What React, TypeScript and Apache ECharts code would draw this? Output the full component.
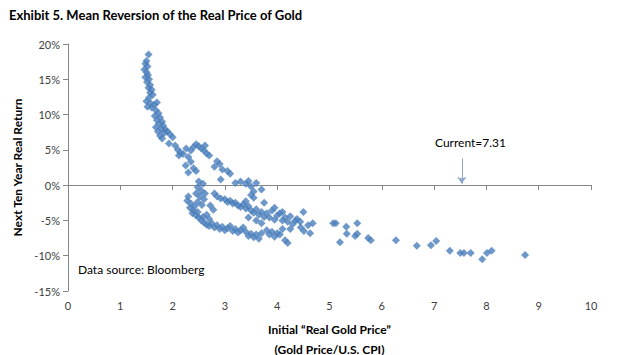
import React, { useEffect, useRef } from "react";
import * as echarts from "echarts";

const title = "Exhibit 5. Mean Reversion of the Real Price of Gold";

// Initial real gold price (x) and next ten year real return in % (y)
const upperX = [1.54, 1.50, 1.48, 1.52, 1.46, 1.50, 1.53, 1.48, 1.55, 1.51, 1.57, 1.54, 1.60, 1.57, 1.62, 1.55, 1.50, 1.58, 1.65, 1.52, 1.60, 1.70, 1.68, 1.73, 1.66, 1.76, 1.70, 1.80, 1.74, 1.82, 1.68, 1.78, 1.86, 1.72, 1.84, 1.90, 1.76, 1.95, 1.80, 2.00, 1.93, 2.05, 2.10, 2.15, 2.20, 2.12, 2.26, 2.30, 2.35, 2.40, 2.45, 2.50, 2.55, 2.60, 2.65, 2.62, 2.70, 2.35, 2.25, 2.40, 2.30, 2.45, 2.85, 2.80, 2.95, 2.90, 3.10, 3.05, 2.92, 3.30, 3.40, 3.45, 3.50, 3.20, 3.60, 3.70, 3.55];
const upperY = [18.5, 17.6, 17.2, 16.8, 16.4, 16.0, 15.6, 15.3, 15.0, 14.6, 14.2, 13.8, 13.5, 13.1, 12.8, 12.4, 11.9, 11.6, 11.4, 11.1, 11.0, 11.7, 10.6, 10.2, 9.8, 9.6, 9.2, 9.0, 8.7, 8.4, 8.2, 8.0, 7.9, 7.6, 7.4, 7.6, 7.0, 7.2, 6.6, 6.8, 5.9, 5.6, 5.0, 4.6, 4.4, 4.2, 5.2, 4.0, 4.9, 5.4, 5.8, 5.5, 5.2, 4.9, 4.5, 5.6, 4.2, 3.3, 2.8, 2.4, 1.8, 2.0, 3.4, 2.6, 2.2, 3.0, 1.6, 2.0, 0.8, 0.5, 0.2, 0.6, -0.2, 0.3, 0.3, -0.6, -0.9];

const middleX = [2.50, 2.48, 2.55, 2.45, 2.52, 2.60, 2.48, 2.56, 2.42, 2.62, 2.58, 2.80, 2.85, 2.92, 3.00, 3.05, 3.10, 3.15, 3.20, 3.25, 3.30, 3.35, 3.40, 3.45, 3.50, 3.55, 3.60, 3.65, 3.70, 3.75, 3.80, 3.85, 3.90, 3.95, 4.00, 4.05, 4.10, 4.15, 4.20, 4.25, 4.30, 4.35, 3.60, 3.70, 3.45, 3.40, 3.50, 3.55, 3.75, 3.95, 4.10, 4.50, 4.38, 4.44, 4.51, 4.59, 4.63, 4.68, 4.45, 4.25];
const middleY = [0.5, -0.3, -0.8, -1.2, -1.6, -2.0, -2.4, -2.8, -3.0, -1.2, 0.2, -1.2, -1.6, -1.9, -2.0, -2.4, -2.2, -2.6, -2.5, -2.9, -3.1, -2.7, -3.3, -3.0, -3.6, -3.9, -3.4, -4.2, -3.8, -4.5, -4.0, -4.6, -3.6, -4.9, -4.3, -4.0, -5.0, -4.6, -5.2, -4.4, -5.5, -5.0, -5.0, -5.4, -4.6, -2.3, -1.4, -1.8, -2.5, -3.2, -3.8, -3.8, -4.8, -5.2, -6.5, -5.7, -6.8, -5.4, -6.0, -6.2];

const lowerX = [2.30, 2.28, 2.35, 2.33, 2.40, 2.38, 2.45, 2.50, 2.48, 2.55, 2.60, 2.58, 2.65, 2.70, 2.75, 2.80, 2.85, 2.90, 2.95, 3.00, 3.05, 3.10, 3.15, 3.20, 3.25, 3.30, 3.35, 3.40, 3.45, 3.50, 3.55, 3.60, 3.65, 3.70, 3.80, 3.85, 3.90, 3.95, 4.00, 4.05, 4.10, 4.20, 4.15, 2.65, 2.70, 2.78, 2.72];
const lowerY = [-1.6, -2.2, -2.6, -3.2, -3.6, -4.0, -4.3, -4.6, -3.8, -5.0, -5.3, -4.5, -5.6, -5.8, -5.4, -6.0, -5.7, -6.2, -5.9, -6.4, -6.1, -5.8, -6.5, -6.2, -6.7, -6.4, -6.0, -6.6, -7.2, -6.9, -7.4, -7.0, -7.6, -6.8, -6.4, -7.0, -6.6, -7.3, -6.8, -7.0, -6.2, -8.2, -7.8, -4.2, -4.8, -3.5, -2.9];

const tailX = [5.07, 5.12, 5.20, 5.32, 5.33, 5.49, 5.53, 5.53, 5.74, 5.79, 6.27, 6.67, 6.94, 7.04, 7.30, 7.50, 7.57, 7.70, 7.92, 8.01, 8.10, 8.74];
const tailY = [-5.4, -5.4, -8.1, -5.9, -6.9, -7.2, -5.4, -6.9, -7.5, -7.8, -7.8, -8.6, -8.5, -7.9, -9.3, -9.6, -9.6, -9.6, -10.5, -9.6, -9.3, -9.9];

const currentLabel = "Current=7.31";
const currentArrowX = 7.53;
const currentArrowFrom = 3.8;
const currentArrowTo = 0.2;
const sourceNote = "Data source: Bloomberg";

function pairs(xs: number[], ys: number[]) {
  return xs.map((x, i) => [x, ys[i]]);
}

export default function App() {
  const ref = useRef<HTMLDivElement>(null);
  useEffect(() => {
    if (!ref.current) return;
    const chart = echarts.init(ref.current, undefined, { renderer: "svg", width: 624, height: 355 });
    const data = [
      ...pairs(upperX, upperY),
      ...pairs(middleX, middleY),
      ...pairs(lowerX, lowerY),
      ...pairs(tailX, tailY),
    ];
    const axisColor = "#868686";
    const textColor = "#404040";
    const font = "Lato";
    chart.setOption({
      animation: false,
      backgroundColor: "#ffffff",
      textStyle: { fontFamily: font },
      title: {
        text: title,
        left: 4,
        top: 3,
        textStyle: { fontFamily: font, fontWeight: "bold", fontSize: 13, color: "#000" },
      },
      grid: { left: 68, right: 33, top: 44, bottom: 64, outerBoundsMode: "none", containLabel: false },
      xAxis: [
        {
          type: "value",
          min: 0,
          max: 10,
          interval: 1,
          position: "bottom",
          axisLine: { show: false, onZero: false },
          axisTick: { show: false },
          splitLine: { show: false },
          axisLabel: { color: textColor, fontSize: 11, margin: 9, fontFamily: font },
          name: "Initial \u201CReal Gold Price\u201D\n(Gold Price/U.S. CPI)",
          nameLocation: "middle",
          nameGap: 28,
          nameTextStyle: {
            fontFamily: font,
            fontWeight: "bold",
            fontSize: 12,
            color: "#000",
            lineHeight: 20,
            verticalAlign: "top",
          },
        },
        {
          type: "value",
          min: 0,
          max: 10,
          interval: 1,
          position: "bottom",
          axisLine: { show: true, onZero: true, lineStyle: { color: axisColor, width: 1 } },
          axisTick: { show: true, length: 5, lineStyle: { color: axisColor } },
          axisLabel: { show: false },
          splitLine: { show: false },
        },
      ],
      yAxis: {
        type: "value",
        min: -15,
        max: 20,
        interval: 5,
        axisLine: { show: true, lineStyle: { color: axisColor, width: 1 } },
        axisTick: { show: true, length: 5, lineStyle: { color: axisColor } },
        splitLine: { show: false },
        axisLabel: { formatter: "{value}%", color: textColor, fontSize: 11, margin: 8, fontFamily: font },
        name: "Next Ten Year Real Return",
        nameLocation: "middle",
        nameGap: 28,
        nameTextStyle: { fontFamily: font, fontWeight: "bold", fontSize: 12, color: "#000" },
      },
      graphic: [
        {
          type: "text",
          left: 78,
          top: 263,
          style: { text: sourceNote, fontFamily: font, fontSize: 12, fill: "#000" },
        },
        {
          type: "text",
          left: 435,
          top: 136,
          style: { text: currentLabel, fontFamily: font, fontSize: 12, fill: "#000" },
        },
      ],
      series: [
        {
          type: "scatter",
          xAxisIndex: 0,
          symbol: "diamond",
          symbolSize: 8,
          itemStyle: { color: "#4A7EBB" },
          data,
          markLine: {
            silent: true,
            symbol: ["none", "arrow"],
            symbolSize: [7, 7],
            label: { show: false },
            lineStyle: { color: "#8EA6CE", type: "solid", width: 1 },
            data: [
              [
                { coord: [currentArrowX, currentArrowFrom] },
                { coord: [currentArrowX, currentArrowTo] },
              ],
            ],
          },
        },
      ],
    });
    return () => chart.dispose();
  }, []);
  return (
    <div
      ref={ref}
      style={{ position: "fixed", left: 0, top: 0, width: 624, height: 355, background: "#fff" }}
    />
  );
}
